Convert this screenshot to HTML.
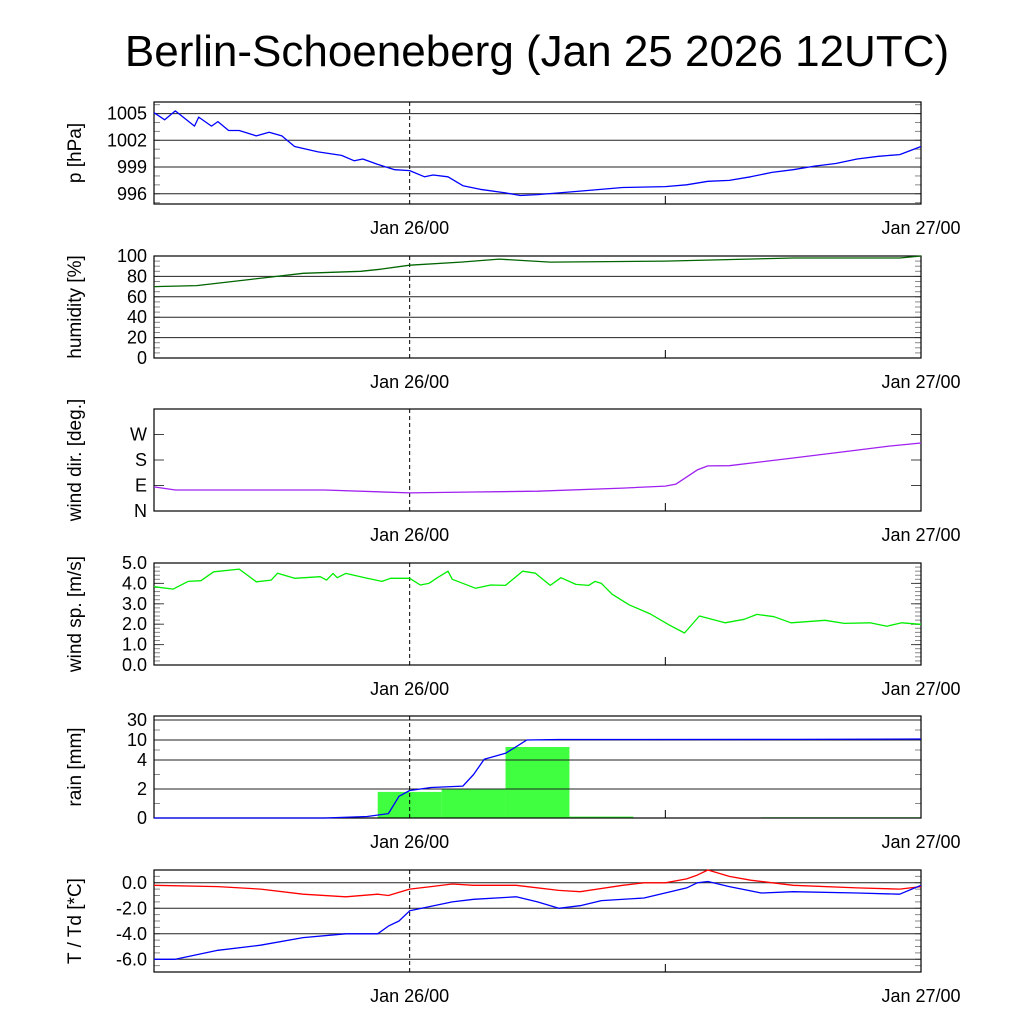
<!DOCTYPE html>
<html><head><meta charset="utf-8"><style>
body{margin:0;background:#fff}
svg{display:block;font-family:"Liberation Sans",Arial,sans-serif}
</style></head><body>
<svg id="c" width="1024" height="1024" viewBox="0 0 1024 1024">
<text x="537" y="66" font-size="44" text-anchor="middle">Berlin-Schoeneberg (Jan 25 2026 12UTC)</text>
</svg>
<script>
// hours since Jan 25 12UTC
const pHours=[0,0.5,1.0,1.9,2.1,2.7,3.0,3.5,4.0,4.8,5.4,6.0,6.6,7.7,8.8,9.4,9.8,10.5,11.3,12.0,12.7,13.1,13.8,14.5,15.3,16.5,17.2,18,20,22,24,25,26,27,28,29,30,31,32,33,34,35,36];
const pVals=[1005.1,1004.3,1005.3,1003.6,1004.6,1003.6,1004.1,1003.1,1003.1,1002.5,1002.9,1002.5,1001.3,1000.7,1000.3,999.7,999.9,999.3,998.7,998.6,997.9,998.1,997.9,996.9,996.5,996.1,995.8,995.9,996.3,996.7,996.8,997.0,997.4,997.5,997.9,998.4,998.7,999.1,999.4,999.9,1000.2,1000.4,1001.3];
const hHours=[0,2,4.5,7,9.7,10.6,12,14.4,16.2,17,18.6,24,30,35,36];
const hVals=[70,71,77,83,85,87,91,94,97,96,94,95,98,98,100];
const dHours=[0,1,5,8,12,15,18,22,24,24.5,25.5,26,27,30,33,34.5,36];
const dVals=[85,74,74,74,64,67,70,81,88,95,145,159,160,187,215,229,240];
const sHours=[0,0.9,1.6,2.2,2.8,4.0,4.8,5.5,5.8,6.6,7.8,8.1,8.4,8.6,9.0,9.9,10.7,11.1,12.0,12.5,12.9,13.3,13.8,14,15.1,15.8,16.5,17.3,17.9,18.6,19.1,19.8,20.4,20.7,21.0,21.5,22.3,23.3,24.2,24.9,25.6,26.8,27.7,28.3,29.1,29.9,31.5,32.4,33.6,34.4,35.1,35.9,36];
const sVals=[3.84,3.72,4.1,4.13,4.57,4.7,4.08,4.16,4.5,4.25,4.33,4.16,4.49,4.28,4.49,4.28,4.1,4.25,4.25,3.92,4.0,4.28,4.6,4.2,3.76,3.92,3.9,4.6,4.5,3.9,4.28,3.95,3.9,4.1,4.0,3.47,2.95,2.5,1.95,1.57,2.4,2.07,2.24,2.48,2.37,2.07,2.19,2.04,2.07,1.9,2.07,2.0,2.0];
const rainBarCenters=[12,15,18,21,24,27,30,33,36];
const rainBarVals=[1.8,2.0,7.9,0.1,0,0,0.05,0.05,0.05];
const rainCumHours=[0,8,10,11,11.5,12,13,14.5,15,15.5,16.5,17,17.5,19,30,36];
const rainCumVals=[0,0,0.1,0.3,1.5,1.9,2.1,2.2,3,4.2,6,8,10,10.5,10.6,11];
const tHours=[0,3,5,7,9,10.5,11,12,13,14,15,17,19,20,22,23,24,25,25.5,26,27,28,30,33,35,36];
const tVals=[-0.2,-0.3,-0.5,-0.9,-1.1,-0.9,-1.0,-0.5,-0.3,-0.1,-0.2,-0.2,-0.6,-0.7,-0.2,0,0,0.3,0.6,1.0,0.5,0.2,-0.2,-0.4,-0.5,-0.3];
const tdHours=[0,1,3,5,7,9,10.5,11,11.5,12,14,15,17,18,19,20,21,23,25,25.5,26,27,28.5,30,33,35,36];
const tdVals=[-6,-6,-5.3,-4.9,-4.3,-4,-4,-3.4,-3.0,-2.2,-1.5,-1.3,-1.1,-1.5,-2.0,-1.8,-1.4,-1.2,-0.4,0,0.1,-0.3,-0.8,-0.7,-0.8,-0.9,-0.2];

const NS='http://www.w3.org/2000/svg';
const svg=document.getElementById('c');
const L=154,R=921,H=102;
const X=h=>L+(R-L)*h/36;
function mk(tag,attrs,parent){const e=document.createElementNS(NS,tag);for(const k in attrs)e.setAttribute(k,attrs[k]);(parent||svg).appendChild(e);return e;}
function linY(top,min,max){return v=>top+H-(v-min)/(max-min)*H;}
function panel(name,top,yf,ticks,labels,minors,grid,title){
  const g=mk('g',{});
  
  
  minors.forEach(v=>{const y=yf(v);mk('line',{x1:L,x2:L+6,y1:y,y2:y,stroke:'#888'},g);mk('line',{x1:R-6,x2:R,y1:y,y2:y,stroke:'#888'},g);});
  ticks.forEach((v,i)=>{const y=yf(v);
    if(grid)mk('line',{x1:L,x2:R,y1:y,y2:y,stroke:'#222','stroke-width':1},g);
    else{mk('line',{x1:L,x2:L+10,y1:y,y2:y,stroke:'#444'},g);mk('line',{x1:R-10,x2:R,y1:y,y2:y,stroke:'#444'},g);}
    const t=mk('text',{x:L-7,y:y+6,'font-size':18,'text-anchor':'end'},g);t.textContent=labels[i];
    
    
  });
  mk('line',{x1:X(12),x2:X(12),y1:top,y2:top+H,stroke:'#000','stroke-dasharray':'4,3'},g);
  mk('line',{x1:X(24),x2:X(24),y1:top+H-8,y2:top+H,stroke:'#000'},g);
  mk('rect',{x:L,y:top,width:R-L,height:H,fill:'none',stroke:'#000','stroke-width':1.2},g);
  const yt=mk('text',{transform:`translate(${L-73},${top+H/2}) rotate(-90)`,'font-size':19,'text-anchor':'middle'},g);
  yt.textContent=title;
  
  
  [[12,'Jan 26/00'],[36,'Jan 27/00']].forEach(([h,s])=>{const t=mk('text',{x:X(h),y:top+H+30,'font-size':18,'text-anchor':'middle'},g);t.textContent=s;
    
    });
  return g;
}
function line(hs,vs,yf,color,name,parent){
  const d=hs.map((h,i)=>(i?'L':'M')+X(h).toFixed(1)+','+yf(vs[i]).toFixed(1)).join('');
  const p=mk('path',{d,fill:'none',stroke:color,'stroke-width':1.3,'stroke-linejoin':'round'},parent);
  
  
}
function range(a,b,s){const r=[];for(let v=a;v<=b+1e-9;v+=s)r.push(+v.toFixed(3));return r;}
// pressure
let t=102,yf=linY(t,994.85,1006.3);
let g=panel('pressure',t,yf,[996,999,1002,1005],['996','999','1002','1005'],range(995,1006,1),true,'p [hPa]');
line(pHours,pVals,yf,'#0000ff','pressure-line',g);
// humidity
t=256;yf=linY(t,0,100);
g=panel('humidity',t,yf,[0,20,40,60,80,100],['0','20','40','60','80','100'],range(0,100,5),true,'humidity [%]');
line(hHours,hVals,yf,'#006400','humidity-line',g);
// wind dir
t=409;yf=linY(t,0,360);
g=panel('wind-dir',t,yf,[0,90,180,270],['N','E','S','W'],[],false,'wind dir. [deg.]');
line(dHours,dVals,yf,'#a020f0','wind-direction-line',g);
// wind speed
t=563;yf=linY(t,0,5);
g=panel('wind-speed',t,yf,[0,1,2,3,4,5],['0.0','1.0','2.0','3.0','4.0','5.0'],range(0,5,0.2),false,'wind sp. [m/s]');
line(sHours,sVals,yf,'#00ee00','wind-speed-line',g);
// rain (piecewise axis)
t=716;
const rk=[0,2,4,10,30,40],rp=[818,789,760,740,720,710];
yf=v=>{for(let i=0;i<rk.length-1;i++){if(v<=rk[i+1])return rp[i]+(v-rk[i])/(rk[i+1]-rk[i])*(rp[i+1]-rp[i]);}return rp[rp.length-1];};
g=panel('rain',t,yf,[0,2,4,10,30],['0','2','4','10','30'],[1,3,7,20],true,'rain [mm]');
const bg=mk('g',{},g);
rainBarCenters.forEach((c,i)=>{const v=rainBarVals[i];if(v<=0)return;const x0=X(c-1.5),x1=Math.min(X(c+1.5),R);const y=yf(v);
  const r=mk('rect',{x:x0,y:y,width:x1-x0,height:Math.max(818-y,1.2),fill:'#40ff40'},bg);
  
  });
g.insertBefore(bg,g.firstChild);
line(rainCumHours,rainCumVals,yf,'#0000ff','cumulative-rain-line',g);
// temperature
t=870;yf=linY(t,-7,1);
g=panel('temperature',t,yf,[-6,-4,-2,0],['-6.0','-4.0','-2.0','0.0'],range(-7,1,0.5),true,'T / Td [*C]');
line(tHours,tVals,yf,'#ff0000','temperature-line',g);
line(tdHours,tdVals,yf,'#0000ff','dewpoint-line',g);
</script>
</body></html>
